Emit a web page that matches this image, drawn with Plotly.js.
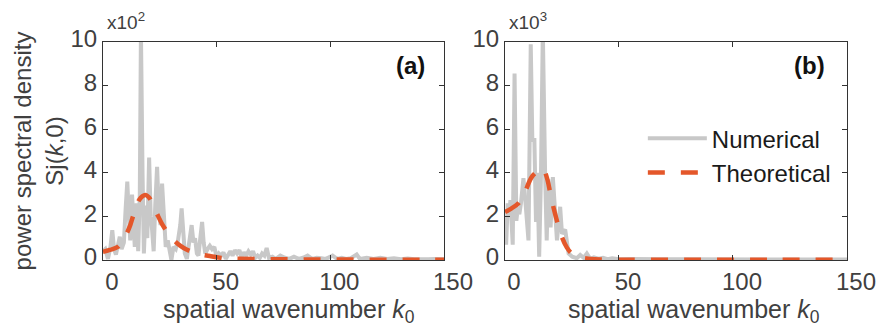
<!DOCTYPE html>
<html>
<head>
<meta charset="utf-8">
<script src="https://cdn.plot.ly/plotly-3.0.1.min.js"></script>
<style>html,body{margin:0;padding:0;background:#fff;}#chart{width:877px;height:327px;}</style>
</head>
<body>
<div id="chart"></div>
<script>
// ---- data (y in displayed units: panel a ×10^2, panel b ×10^3) ----
const kNumA = [0,1,2.2,3.3,4.1,4.9,5.7,6.5,7.4,8.2,9.2,10.0,10.7,11.4,12.0,12.8,13.4,14.0,14.8,15.5,16.2,16.7,17.4,18.0,18.8,19.5,20.3,21.0,21.6,22.3,23.0,23.8,24.6,25.3,26.0,26.8,27.6,28.5,29.3,30.1,31.0,32.0,33.0,34.0,34.6,35.3,36.0,36.9,37.6,38.3,39.0,39.8,40.5,41.3,42.0,42.8,43.6,44.3,45.0,46.0,47.0,48.0,49.0,50.0,51.0,52.0,53.0,54.0,55.0,56.0,57.0,58.0,59.0,60.0,61.0,62.0,63.0,64.0,65.0,66.0,67.0,68.0,69.0,70.0,71.0,72.0,73.0,74.5,76,78,80,82,84,86,88,90,92,94,96,98,101,103,105,107,109,111.6,113,116,119,122,125,128,131,134,137,140,143,146,150];
const sNumA = [0.4,0.5,0.05,0.6,1.37,0.5,0.25,0.6,1.07,0.5,0.8,2.4,3.6,2.0,0.9,3.0,1.5,0.6,2.6,0.4,3.0,10.5,4.0,0.3,2.5,1.0,4.7,2.0,1.4,0.4,2.5,4.27,2.2,1.6,3.5,1.8,0.6,0.9,0.5,0.0,0.6,0.5,0.9,1.6,2.37,1.5,0.3,0.05,0.6,1.1,1.6,0.8,1.0,0.3,0.2,1.0,1.75,0.8,0.3,0.5,0.65,0.5,0.6,0.1,0.3,0.2,0.35,0.05,0.2,0.4,0.2,0.45,0.3,0.45,0.1,0.35,0.2,0.4,0.25,0.4,0.1,0.2,0.1,0.3,0.2,0.55,0.1,0.15,0.05,0.2,0.1,0.05,0.15,0.05,0.1,0.2,0.05,0.1,0.08,0.05,0.2,0.05,0.1,0.05,0.08,0.25,0.05,0.1,0.05,0.1,0.05,0.08,0.04,0.07,0.04,0.06,0.04,0.05,0.04];
const kThA = [0,3,6.6,9,10.6,12,13.2,14.5,15.9,17.3,18.7,20,21.3,22.8,24.3,26,27.9,30,33,35.5,38.2,42,47,53.7,60,70,80,90,100,110,120,130,140,150];
const sThA = [0.37,0.46,0.61,0.95,1.25,1.6,2.0,2.4,2.75,2.92,2.98,2.9,2.7,2.35,2.0,1.65,1.34,1.05,0.73,0.55,0.41,0.28,0.18,0.08,0.06,0.04,0.03,0.025,0.02,0.02,0.015,0.015,0.012,0.01];

const kNumB = [0,0.5,1.2,1.8,2.4,3.0,3.4,4.2,5.0,5.6,6.3,7.0,8.1,8.8,9.5,10.3,11.3,12.0,12.9,13.6,14.2,15.0,15.8,16.6,17.6,18.3,19.0,20.0,21.0,22.0,22.8,24.2,25.0,26.4,27.9,29.5,31.5,33,34.5,35.9,37.4,39,41,43,45,47,50,55,60,65,70,80,90,100,110,120,130,140,150];
const sNumB = [1.9,0.7,2.6,2.0,2.75,1.0,0.7,8.55,1.8,2.4,2.1,2.6,3.75,2.9,2.0,0.9,9.9,5.5,5.5,1.75,4.0,0.15,4.0,10.5,4.0,0.9,3.7,1.5,3.8,2.1,0.9,2.44,1.2,1.4,0.3,0.15,0.08,0.23,0.1,0.3,0.05,0.12,0.06,0.1,0.04,0.08,0.03,0.05,0.03,0.04,0.03,0.03,0.02,0.03,0.02,0.03,0.02,0.02,0.02];
const kThB = [0,2.9,5.9,8.8,11.7,14.7,16.6,18.3,20.5,22.7,24.9,27.1,29.3,33,37.4,41.8,50,60,80,100,120,150];
const sThB = [2.2,2.37,2.6,3.13,3.8,4.1,4.2,3.8,2.75,1.83,1.07,0.58,0.3,0.12,0.05,0.02,0.015,0.01,0.01,0.01,0.01,0.01];

const xTicks = [0,50,100,150];
const yTicks = [0,2,4,6,8,10];
const seriesNames = ['Numerical','Theoretical'];
const panelLabels = ['(a)','(b)'];
const exponentLabels = ['x10<sup>2</sup>','x10<sup>3</sup>'];
const xTitle = 'spatial wavenumber <i>k</i><sub>0</sub>';
const yTitle = 'power spectral density<br>Sj(<i>k</i>,0)';

const GRAY = '#c8c8c8', ORANGE = '#e4572a', TXT = '#404040', AX = '#333333';
const FONT = '"Liberation Sans", Arial, Helvetica, sans-serif';

const traces = [
  {x:kNumA, y:sNumA, xaxis:'x', yaxis:'y', type:'scatter', mode:'lines', name:seriesNames[0], showlegend:false, line:{color:GRAY, width:4}},
  {x:kThA, y:sThA, xaxis:'x', yaxis:'y', type:'scatter', mode:'lines', name:seriesNames[1], showlegend:false, line:{color:ORANGE, width:4.5, dash:'17px,16px', shape:'spline'}},
  {x:kNumB, y:sNumB, xaxis:'x2', yaxis:'y2', type:'scatter', mode:'lines', name:seriesNames[0], showlegend:true, legendgroup:'n', line:{color:GRAY, width:4}},
  {x:kThB, y:sThB, xaxis:'x2', yaxis:'y2', type:'scatter', mode:'lines', name:seriesNames[1], showlegend:true, legendgroup:'t', line:{color:ORANGE, width:4.5, dash:'17px,16px', shape:'spline'}}
];

function xax(domain, anchor){
  return {domain:domain, anchor:anchor, range:[0,150], tickvals:xTicks, ticks:'inside', ticklen:5, tickcolor:AX,
    showline:true, linecolor:AX, linewidth:1, mirror:'ticks', showgrid:false, zeroline:false,
    tickfont:{size:24, color:TXT, family:FONT}, ticklabelshift:9};
}
function yax(anchor, withTitle){
  const a = {domain:[0.2049,0.8716], range:[0,10], tickvals:yTicks, ticks:'inside', ticklen:5, tickcolor:AX,
    showline:true, linecolor:AX, linewidth:1, mirror:'ticks', showgrid:false, zeroline:false, anchor:anchor,
    tickfont:{size:24, color:TXT, family:FONT}, ticklabelshift:-3};
  if (withTitle) a.title = {text:yTitle, font:{size:24, color:TXT, family:FONT}, standoff:0};
  return a;
}

const layout = {
  width:877, height:327, margin:{l:0, r:0, t:0, b:0},
  paper_bgcolor:'#ffffff', plot_bgcolor:'#ffffff',
  font:{family:FONT, color:TXT},
  xaxis: xax([0.1174,0.5063], 'y'),
  yaxis: yax('x', true),
  xaxis2: xax([0.5758,0.9658], 'y2'),
  yaxis2: yax('x2', false),
  showlegend:true,
  legend:{x:0.733, y:0.645, xanchor:'left', yanchor:'top', bgcolor:'rgba(0,0,0,0)', borderwidth:0,
    font:{size:24, color:'#1a1a1a', family:FONT}, itemwidth:59, tracegroupgap:0},
  annotations:[
    {xref:'paper', yref:'paper', x:427/877, y:1-65/327, xanchor:'right', yanchor:'middle', text:'<b>'+panelLabels[0]+'</b>', showarrow:false, font:{size:24, color:'#111', family:FONT}},
    {xref:'paper', yref:'paper', x:827/877, y:1-65/327, xanchor:'right', yanchor:'middle', text:'<b>'+panelLabels[1]+'</b>', showarrow:false, font:{size:24, color:'#111', family:FONT}},
    {xref:'x domain', yref:'y domain', x:0, y:1, xanchor:'left', yanchor:'bottom', xshift:2, yshift:7, text:exponentLabels[0], showarrow:false, font:{size:19, color:TXT, family:FONT}},
    {xref:'x2 domain', yref:'y2 domain', x:0, y:1, xanchor:'left', yanchor:'bottom', xshift:2, yshift:7, text:exponentLabels[1], showarrow:false, font:{size:19, color:TXT, family:FONT}},
    {xref:'x domain', yref:'paper', x:0.5, y:1-311/327, xanchor:'center', yanchor:'middle', xshift:16, text:xTitle, showarrow:false, font:{size:25, color:TXT, family:FONT}},
    {xref:'x2 domain', yref:'paper', x:0.5, y:1-311/327, xanchor:'center', yanchor:'middle', xshift:18, text:xTitle, showarrow:false, font:{size:25, color:TXT, family:FONT}}
  ]
};

Plotly.newPlot('chart', traces, layout, {displayModeBar:false, staticPlot:true});
</script>
</body>
</html>
